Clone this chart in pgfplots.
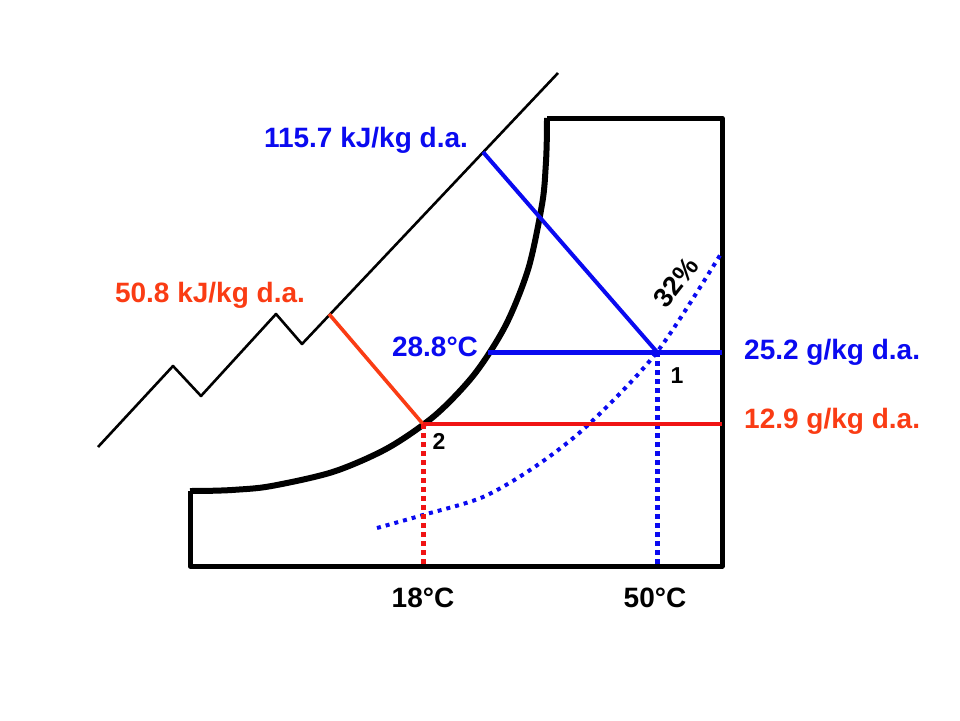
\documentclass[border=0pt]{standalone}
\usepackage{pgfplots}
\pgfplotsset{compat=1.18}
\usepackage{fontspec}
\setmainfont{Liberation Sans}
\definecolor{myblue}{RGB}{10,10,240}
\definecolor{myred}{RGB}{240,20,20}
\definecolor{myorange}{RGB}{250,60,20}
\begin{document}
\begin{tikzpicture}
\path (0,0) rectangle (960pt,720pt);
\begin{axis}[x=1pt,y=1pt,xmin=0,xmax=960,ymin=0,ymax=720,y dir=reverse,
  hide axis,scale only axis,clip=false,line join=round]
% enthalpy scale line (zigzag)
\addplot[black,line width=2.6pt] coordinates {(98,447)(173,366)(201,396)(276,314)(302,344)(558,73)};
% chart box
\addplot[black,line width=5pt] coordinates {(547,118)(722,118)(722,566)(190,566)(190,491)};
% saturation curve
\addplot[black,line width=6pt,smooth] coordinates {(190,491)(210.6,490.8)(234.8,489.8)(270.5,486.2)(333.3,471.8)(387.9,448.0)(435.1,415.3)(474.5,374.1)(505.9,324.8)(528.6,267.7)(542.4,202.1)(545.8,164.8)(546.8,139.5)(547,118)};
% 32% RH curve
\addplot[myblue,line width=4pt,dash pattern=on 4pt off 5pt,smooth] coordinates {(377,528)(423,515)(483,497)(536,466)(588,425)(657,352)(722,252)};
% state 1 lines
\addplot[myblue,line width=4pt] coordinates {(483,152)(657,352)};
\addplot[myblue,line width=5pt] coordinates {(488,352)(722,352)};
\addplot[myblue,line width=5pt,dash pattern=on 5pt off 4pt] coordinates {(657,352)(657,566)};
% state 2 lines
\addplot[myorange,line width=3.6pt] coordinates {(329,314)(423,424)};
\addplot[myred,line width=4pt] coordinates {(423,424)(722,424)};
\addplot[myred,line width=5pt,dash pattern=on 5pt off 4pt] coordinates {(423,424)(423,566)};
% labels
\node[myblue,font=\fontsize{28}{30}\selectfont\bfseries] at (axis cs:366,140) {115.7 kJ/kg d.a.};
\node[myorange,font=\fontsize{28}{30}\selectfont\bfseries] at (axis cs:210,295) {50.8 kJ/kg d.a.};
\node[myblue,font=\fontsize{28}{30}\selectfont\bfseries] at (axis cs:435,347) {28.8°C};
\node[myblue,font=\fontsize{28}{30}\selectfont\bfseries,anchor=west,inner sep=0pt] at (axis cs:744,352) {25.2 g/kg d.a.};
\node[myorange,font=\fontsize{28}{30}\selectfont\bfseries,anchor=west,inner sep=0pt] at (axis cs:744,421) {12.9 g/kg d.a.};
\node[black,font=\fontsize{23}{25}\selectfont\bfseries] at (axis cs:677,376) {1};
\node[black,font=\fontsize{23}{25}\selectfont\bfseries] at (axis cs:439,441) {2};
\node[black,font=\fontsize{27}{29}\selectfont\bfseries,rotate=52,inner sep=1pt] at (axis cs:676,282) {32\%};
\node[black,font=\fontsize{28}{30}\selectfont\bfseries] at (axis cs:423,598) {18°C};
\node[black,font=\fontsize{28}{30}\selectfont\bfseries] at (axis cs:655,598) {50°C};
\end{axis}
\end{tikzpicture}
\end{document}
